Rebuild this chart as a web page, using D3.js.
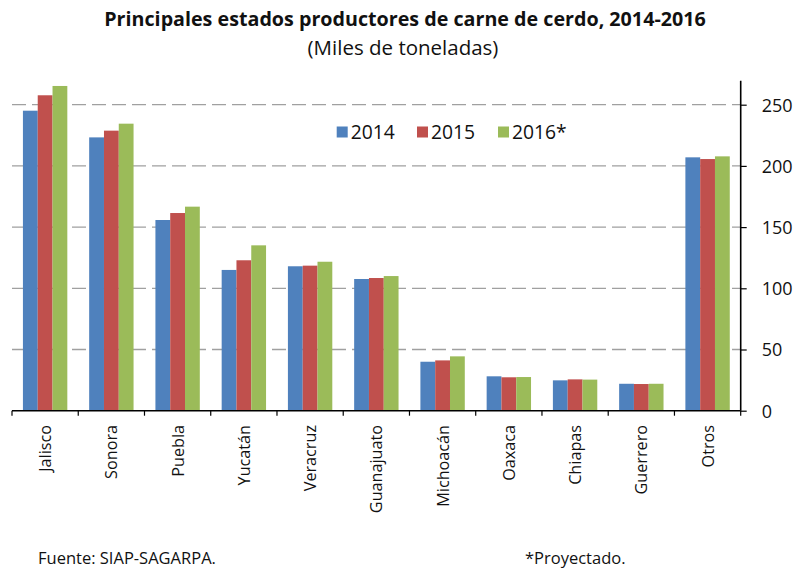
<!DOCTYPE html>
<html><head><meta charset="utf-8">
<script src="https://cdn.jsdelivr.net/npm/d3@7"></script>
<style>body{margin:0;background:#fff}svg{display:block}</style>
</head><body>
<svg id="c" width="796" height="568"></svg>
<script>
const categories = ["Jalisco","Sonora","Puebla","Yucatán","Veracruz","Guanajuato","Michoacán","Oaxaca","Chiapas","Guerrero","Otros"];
const series = ["2014","2015","2016*"];
const v2014 = [245.1,223.3,155.8,115.0,118.0,107.6,40.0,28.1,24.8,22.0,207.0];
const v2015 = [257.7,228.8,161.5,122.9,118.5,108.4,41.1,27.3,25.6,21.8,205.6];
const v2016 = [265.3,234.5,166.7,135.1,121.7,110.0,44.4,27.5,25.4,22.0,207.8];
const yTicks = [0,50,100,150,200,250];
const colors = ["#4F81BD","#C0504D","#9BBB59"];
const title = "Principales estados productores de carne de cerdo, 2014-2016";
const subtitle = "(Miles de toneladas)";
const source = "Fuente: SIAP-SAGARPA.";
const note = "*Proyectado.";

const values = [v2014, v2015, v2016];
const data = categories.map((c,i)=>({cat:c, vals: series.map((s,j)=>({s, j, v: values[j][i]}))}));

const svg = d3.select("#c");
const font = "'Open Sans', 'Noto Sans', sans-serif";
const L = 12, R = 740.7, T = 80.7, B = 410.7;

const x = d3.scaleBand().domain(categories).range([L,R]).paddingInner(0.33).paddingOuter(0.165);
const x1 = d3.scaleBand().domain(series).range([0,x.bandwidth()]);
const y = d3.scaleLinear().domain([0,250]).range([B,104.7]);

// gridlines
svg.append("g").selectAll("line").data(yTicks.filter(d=>d>0)).join("line")
  .attr("x1",L).attr("x2",R).attr("y1",d=>y(d)).attr("y2",d=>y(d))
  .attr("stroke","#a0a0a0").attr("stroke-width",1.3).attr("stroke-dasharray","14,6");

// bars
const g = svg.append("g").selectAll("g").data(data).join("g")
  .attr("transform",d=>`translate(${x(d.cat)},0)`);
g.selectAll("rect").data(d=>d.vals).join("rect")
  .attr("x",d=>x1(d.s)).attr("width",x1.bandwidth())
  .attr("y",d=>y(d.v)).attr("height",d=>B-y(d.v))
  .attr("fill",d=>colors[d.j]);

// x axis
const xAxisG = svg.append("g");
xAxisG.append("line").attr("x1",L).attr("x2",R).attr("y1",B).attr("y2",B).attr("stroke","#000").attr("stroke-width",1.6);
const step = (R-L)/categories.length;
xAxisG.selectAll("line.t").data(d3.range(categories.length+1)).join("line").attr("class","t")
  .attr("x1",i=>L+i*step).attr("x2",i=>L+i*step).attr("y1",B).attr("y2",B+5)
  .attr("stroke","#000").attr("stroke-width",1.2);
xAxisG.selectAll("text").data(categories).join("text")
  .attr("transform",d=>`translate(${x(d)+x.bandwidth()/2+6},425) rotate(-90)`)
  .attr("text-anchor","end").attr("font-family",font).attr("font-size",16.2).attr("fill","#111")
  .text(d=>d);

// y axis right
const yAxis = d3.axisRight(y).tickValues(yTicks).tickSize(6).tickPadding(14);
const yg = svg.append("g").attr("transform",`translate(${R},0)`).call(yAxis);
yg.select(".domain").remove();
yg.append("line").attr("x1",0).attr("x2",0).attr("y1",T).attr("y2",B).attr("stroke","#000").attr("stroke-width",1.6);
yg.selectAll(".tick line").attr("stroke","#000").attr("stroke-width",1.2);
yg.selectAll(".tick text").attr("font-family",font).attr("font-size",18).attr("fill","#111").attr("x",21).attr("dy","0.35em");

// legend
const legX = [336.7, 417, 498];
const lg = svg.append("g").selectAll("g").data(series).join("g")
  .attr("transform",(d,i)=>`translate(${legX[i]},126.5)`);
lg.append("rect").attr("width",11).attr("height",11).attr("fill",(d,i)=>colors[i]);
lg.append("text").attr("x",14).attr("y",12.5).attr("font-family",font).attr("font-size",19.3).attr("fill","#111").text(d=>d);

// titles
svg.append("text").attr("x",405).attr("y",26).attr("text-anchor","middle")
  .attr("font-family",font).attr("font-weight","bold").attr("font-size",19.7).attr("fill","#111").text(title);
svg.append("text").attr("x",403).attr("y",55).attr("text-anchor","middle")
  .attr("font-family",font).attr("font-size",20.5).attr("fill","#111").text(subtitle);
svg.append("text").attr("x",38).attr("y",564).attr("font-family",font).attr("font-size",16.5).attr("fill","#111").text(source);
svg.append("text").attr("x",525).attr("y",564).attr("font-family",font).attr("font-size",16.5).attr("fill","#111").text(note);
</script>
</body></html>
